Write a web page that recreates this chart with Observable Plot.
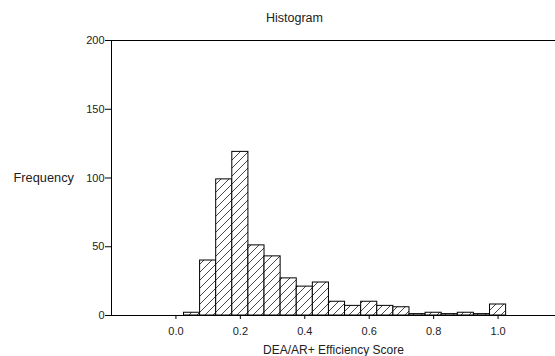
<!DOCTYPE html>
<html>
<head>
<meta charset="utf-8">
<script src="https://cdn.jsdelivr.net/npm/d3@7"></script>
<script src="https://cdn.jsdelivr.net/npm/@observablehq/plot@0.6"></script>
<style>
  html, body { margin: 0; padding: 0; background: white; }
</style>
</head>
<body>
<div id="chart"></div>
<script>
// Histogram data
const binCenters = [0.05, 0.10, 0.15, 0.20, 0.25, 0.30, 0.35, 0.40, 0.45, 0.50,
                    0.55, 0.60, 0.65, 0.70, 0.75, 0.80, 0.85, 0.90, 0.95, 1.00];
const frequencies = [2, 40, 99, 119, 51, 43, 27, 21, 24, 10,
                     7, 10, 7, 6, 1, 2, 1, 2, 1, 8];
const binWidth = 0.05;
const xDomain = [-0.2, 1.2];
const yDomain = [0, 200];
const xTicks = [0.0, 0.2, 0.4, 0.6, 0.8, 1.0];
const yTicks = [0, 50, 100, 150, 200];
const titleText = "Histogram";
const xLabel = "DEA/AR+ Efficiency Score";
const yLabel = "Frequency";

const data = binCenters.map((c, i) => ({x1: c - binWidth / 2, x2: c + binWidth / 2, f: frequencies[i]}));

const font = "'Liberation Sans', Arial, sans-serif";
const ink = "#222";

const chart = Plot.plot({
  width: 555,
  height: 356,
  marginLeft: 111,
  marginRight: 0,
  marginTop: 40,
  marginBottom: 41,
  style: {fontFamily: font, fontSize: "11px", color: ink, background: "white", overflow: "visible"},
  x: {domain: xDomain, range: [111, 562]},
  y: {domain: yDomain, range: [315, 40]},
  marks: [
    Plot.rectY(data, {x1: "x1", x2: "x2", y: "f", fill: "url(#hatch)", stroke: "black", strokeWidth: 1}),
    Plot.ruleY([yDomain[0]], {stroke: "black", strokeWidth: 1}),
    Plot.ruleY([yDomain[1]], {stroke: "black", strokeWidth: 1}),
    Plot.ruleX([xDomain[0]], {stroke: "black", strokeWidth: 1}),
    Plot.axisX({ticks: xTicks, tickFormat: d3.format(".1f"), tickSize: 4, tickPadding: 8, label: null, fontSize: 11, stroke: "black", fill: ink}),
    Plot.axisY({ticks: yTicks, tickFormat: d => d, tickSize: 6, tickPadding: 1, label: null, fontSize: 11, stroke: "black", fill: ink}),
    Plot.text([titleText], {frameAnchor: "top", text: d => d, dx: -39, dy: -23, lineAnchor: "middle", fontSize: 12.5, fill: ink}),
    Plot.text([yLabel], {frameAnchor: "left", text: d => d, dx: -98, dy: 0, textAnchor: "start", lineAnchor: "middle", fontSize: 12.8, fill: ink}),
    Plot.text([xLabel], {frameAnchor: "bottom", text: d => d, dx: 0, dy: 35, lineAnchor: "middle", fontSize: 12, fill: ink})
  ]
});

// hatch pattern definition
const ns = "http://www.w3.org/2000/svg";
const defs = document.createElementNS(ns, "defs");
defs.innerHTML = `<pattern id="hatch" patternUnits="userSpaceOnUse" width="8" height="8">
  <rect width="8" height="8" fill="white"></rect>
  <path d="M0,8 L8,0 M-2,2 L2,-2 M6,10 L10,6" stroke="#333" stroke-width="0.9"></path>
</pattern>`;
chart.insertBefore(defs, chart.firstChild);

document.getElementById("chart").appendChild(chart);
</script>
</body>
</html>
